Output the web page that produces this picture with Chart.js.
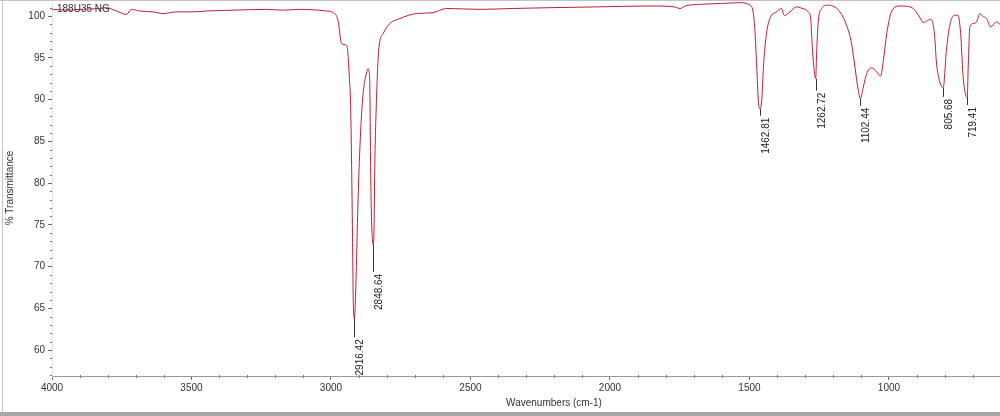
<!DOCTYPE html>
<html>
<head>
<meta charset="utf-8">
<script src="https://cdn.jsdelivr.net/npm/chart.js@4.4.1/dist/chart.umd.min.js"></script>
<style>
  body { margin: 0; background: #fff; }
  #wrap { width: 1000px; height: 416px; }
</style>
</head>
<body>
<div id="wrap"><canvas id="irChart" width="1000" height="416"></canvas></div>
<script>
// spectrum (wavenumber cm-1 / % transmittance)
const wavenumbers = [
  4000, 3996, 3948, 3900, 3829, 3805, 3769, 3733, 3715, 3686, 3638, 3602, 3554, 3494, 3446,
  3351, 3231, 3172, 3112, 3016, 2992, 2975, 2962, 2944, 2940, 2934, 2930, 2926, 2923, 2920,
  2916.42, 2913, 2909, 2903, 2894, 2885, 2876, 2870, 2867, 2863, 2861, 2858, 2855, 2851,
  2848.64, 2846, 2843, 2837, 2829, 2813, 2789, 2753, 2693, 2635, 2586, 2466, 2350, 2215,
  2036, 1857, 1770, 1749, 1730, 1678, 1600, 1534, 1498, 1486, 1480, 1474, 1468,
  1462.81, 1456, 1450, 1439, 1427, 1403, 1385, 1375, 1355, 1331, 1319, 1289, 1281, 1274, 1268,
  1262.72, 1259, 1253, 1241, 1223, 1201, 1176, 1152, 1134, 1122, 1110,
  1102.44, 1092, 1080, 1062, 1044, 1030, 1020, 1008, 990, 960, 925, 907, 889, 877, 865, 853,
  844, 836, 830, 824, 812, 805.68, 794, 782, 764, 753, 743, 735, 727,
  719.41, 716, 710, 698, 686, 674, 665, 650, 636, 614, 602
];
const transmittance = [
  100.8, 100.8, 100.7, 100.8, 100.9, 101.0, 100.6, 100.2, 100.8, 100.6, 100.5, 100.3, 100.5, 100.5, 100.6,
  100.7, 100.8, 100.7, 100.8, 100.6, 100.4, 99.5, 96.7, 96.5, 95.8, 92.5, 89.9, 82.0, 74.0, 65.5,
  63.8, 65.5, 70.0, 78.0, 86.0, 90.7, 92.7, 93.5, 93.7, 93.2, 92.0, 82.0, 76.0, 73.0,
  72.6, 74.0, 82.0, 89.9, 95.9, 97.9, 99.1, 99.7, 100.3, 100.4, 100.9, 100.8, 100.9, 101.0,
  101.1, 101.2, 101.1, 100.9, 101.2, 101.4, 101.5, 101.6, 101.3, 100.3, 98.0, 93.9, 89.8,
  88.9, 89.9, 93.9, 97.9, 99.7, 100.5, 100.9, 100.05, 100.5, 101.1, 101.0, 100.5, 99.8, 95.9, 93.5,
  92.5, 95.9, 99.5, 100.9, 101.3, 101.2, 100.5, 98.9, 96.7, 93.9, 91.1,
  90.1, 91.5, 93.1, 93.8, 93.3, 92.8, 94.7, 97.9, 100.6, 101.2, 101.1, 100.7, 99.8, 99.2, 99.4, 99.6,
  99.3, 97.5, 94.5, 93.0, 91.6, 91.4, 95.9, 98.9, 100.1, 100.1, 97.9, 93.1, 90.8,
  90.3, 93.9, 98.7, 99.1, 99.3, 100.3, 100.0, 99.7, 98.7, 99.3, 99.0
];
const peakLabels = [2916.42, 2848.64, 1462.81, 1262.72, 1102.44, 805.68, 719.41];
const xTickValues = [4000, 3500, 3000, 2500, 2000, 1500, 1000];
const yTickValues = [60, 65, 70, 75, 80, 85, 90, 95, 100];
const sampleName = "188U35 NG";

const points = wavenumbers.map((w, i) => ({ x: w, y: transmittance[i] }));

const font = "10px 'Liberation Sans', Arial, sans-serif";
const leaderLen = [19, 27, 7, 12, 7, 9, 8];

const decorations = {
  id: "decorations",
  afterDraw(chart) {
    const ctx = chart.ctx;
    const xs = chart.scales.x;
    const ys = chart.scales.y;
    const area = chart.chartArea;
    ctx.save();

    // window frame
    ctx.strokeStyle = "#c4c4c4";
    ctx.lineWidth = 1;
    ctx.beginPath();
    ctx.moveTo(0, 0.5); ctx.lineTo(1000, 0.5);
    ctx.moveTo(2.5, 0); ctx.lineTo(2.5, 413);
    ctx.stroke();
    ctx.fillStyle = "#a8a8a8";
    ctx.fillRect(0, 412, 1000, 4);

    // minor ticks
    ctx.strokeStyle = "#777";
    ctx.beginPath();
    for (let v = 57; v <= 101; v++) {
      if (v % 5 === 0) continue;
      const py = Math.round(ys.getPixelForValue(v)) + 0.5;
      ctx.moveTo(area.left - 2, py); ctx.lineTo(area.left, py);
    }
    for (let w = 700; w < 4000; w += 100) {
      if (w % 500 === 0) continue;
      const px = Math.round(xs.getPixelForValue(w)) + 0.5;
      ctx.moveTo(px, area.bottom - 1); ctx.lineTo(px, area.bottom + 2);
    }
    ctx.stroke();

    // axis titles
    ctx.fillStyle = "#333";
    ctx.font = font;
    ctx.textAlign = "center";
    ctx.textBaseline = "middle";
    ctx.fillText("Wavenumbers (cm-1)", 554, 403);
    ctx.save();
    ctx.translate(10, 188);
    ctx.rotate(-Math.PI / 2);
    ctx.fillText("% Transmittance", 0, 0);
    ctx.restore();

    // sample name
    ctx.textAlign = "left";
    ctx.fillText(sampleName, 57, 9);

    // peak labels
    peakLabels.forEach((pk, i) => {
      const idx = wavenumbers.indexOf(pk);
      const px = Math.round(xs.getPixelForValue(pk)) + 0.5;
      const py = ys.getPixelForValue(transmittance[idx]);
      ctx.strokeStyle = "#333";
      ctx.beginPath();
      ctx.moveTo(px, py);
      ctx.lineTo(px, py + leaderLen[i]);
      ctx.stroke();
      ctx.save();
      ctx.translate(px + 1, py + leaderLen[i] + 2);
      ctx.rotate(-Math.PI / 2);
      ctx.textAlign = "right";
      ctx.textBaseline = "top";
      ctx.fillStyle = "#222";
      ctx.fillText(pk.toFixed(2), 0, 0);
      ctx.restore();
    });

    ctx.restore();
  }
};

const ctx = document.getElementById("irChart").getContext("2d");
const irChart = new Chart(ctx, {
  type: "scatter",
  data: {
    datasets: [{
      data: points,
      showLine: true,
      borderColor: "rgb(196, 28, 48)",
      borderWidth: 1,
      pointRadius: 0,
      cubicInterpolationMode: "monotone"
    }]
  },
  options: {
    responsive: false,
    animation: false,
    devicePixelRatio: 1,
    layout: { padding: { top: 2, right: 0, left: 0, bottom: 0 } },
    plugins: { legend: { display: false }, tooltip: { enabled: false } },
    scales: {
      x: {
        type: "linear",
        reverse: true,
        min: 602,
        max: 4000,
        afterBuildTicks: s => { s.ticks = xTickValues.map(v => ({ value: v })); },
        afterFit: s => { s.height = 40; s.paddingLeft = 0; s.paddingRight = 0; },
        ticks: { callback: v => String(v), color: "#333", font: { size: 10, family: "'Liberation Sans', Arial" }, padding: 2, maxRotation: 0, autoSkip: false },
        grid: { drawOnChartArea: false, tickLength: 4, color: "#666" },
        border: { color: "#999" }
      },
      y: {
        min: 56.89,
        max: 101.68,
        afterBuildTicks: s => { s.ticks = yTickValues.map(v => ({ value: v })); },
        afterFit: s => { s.width = 52; s.paddingTop = 0; s.paddingBottom = 0; },
        ticks: { callback: v => String(v), color: "#333", font: { size: 10, family: "'Liberation Sans', Arial" }, padding: 3, autoSkip: false },
        grid: { drawOnChartArea: false, tickLength: 4, color: "#666" },
        border: { color: "#e2e2e2" }
      }
    }
  },
  plugins: [decorations]
});
</script>
</body>
</html>
